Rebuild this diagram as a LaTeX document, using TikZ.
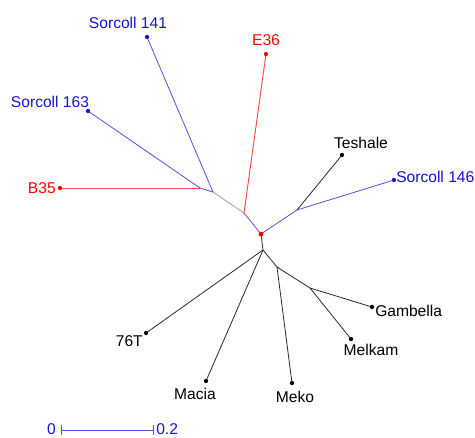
\documentclass[tikz,border=0pt]{standalone}
\usepackage{fontspec}
\setmainfont{Liberation Sans}
\begin{document}
\begin{tikzpicture}[x=0.75pt,y=-0.75pt,
  lbl/.style={inner sep=0pt,font=\fontsize{11.7pt}{13pt}\selectfont},
  bl/.style={lbl,text=tblue},
  rd/.style={lbl,text=red},
  bk/.style={lbl,text=black},
  dot/.style={fill=#1,circle,inner sep=0pt,minimum size=3.2pt},
  eblue/.style={draw=lblue,line width=0.6pt},
  ered/.style={draw=lred,line width=0.7pt},
  egrey/.style={draw=lgrey,line width=0.6pt},
  eblack/.style={draw=lblack,line width=0.6pt}]
\definecolor{tblue}{RGB}{20,20,210}
\definecolor{lblue}{RGB}{80,80,225}
\definecolor{lred}{RGB}{255,70,70}
\definecolor{lgrey}{RGB}{160,160,160}
\definecolor{lblack}{RGB}{40,40,40}
\useasboundingbox (0,0) rectangle (475,437);
% internal nodes
\coordinate (root) at (261,234);
\coordinate (nA) at (244,213);
\coordinate (nC) at (213,192);
\coordinate (nD) at (200,188);
\coordinate (nB) at (297,210);
\coordinate (nE) at (263,250);
\coordinate (nF) at (277,267);
\coordinate (nG) at (310,288);
% tips
\coordinate (s141) at (147,37);
\coordinate (s163) at (88,111);
\coordinate (b35) at (60,188);
\coordinate (e36) at (266,54);
\coordinate (tes) at (342,155);
\coordinate (s146) at (394,180);
\coordinate (t76) at (146,333);
\coordinate (mac) at (206,381);
\coordinate (mek) at (292,383);
\coordinate (gam) at (372,307);
\coordinate (mel) at (351,339);
% edges
\draw[eblue] (root) -- (nA);
\draw[egrey] (nA) -- (nC);
\draw[eblue] (nC) -- (nD);
\draw[eblue] (nC) -- (s141);
\draw[eblue] (nD) -- (s163);
\draw[ered] (nD) -- (b35);
\draw[ered] (nA) -- (e36);
\draw[eblue] (root) -- (nB);
\draw[eblack] (nB) -- (tes);
\draw[eblue] (nB) -- (s146);
\draw[eblack] (root) -- (nE);
\draw[eblack] (nE) -- (t76);
\draw[eblack] (nE) -- (mac);
\draw[eblack] (nE) -- (nF);
\draw[eblack] (nF) -- (mek);
\draw[eblack] (nF) -- (nG);
\draw[eblack] (nG) -- (gam);
\draw[eblack] (nG) -- (mel);
% dots
\node[dot=tblue] (d141) at (s141) {};
\node[dot=tblue] (d163) at (s163) {};
\node[dot=red] (db35) at (b35) {};
\node[dot=red] (de36) at (e36) {};
\node[dot=black] (dtes) at (tes) {};
\node[dot=tblue] (d146) at (s146) {};
\node[dot=black] (d76) at (t76) {};
\node[dot=black] (dmac) at (mac) {};
\node[dot=black] (dmek) at (mek) {};
\node[dot=black] (dgam) at (gam) {};
\node[dot=black] (dmel) at (mel) {};
\node[dot=red,minimum size=3.6pt] (droot) at (root) {};
% labels
\node[bl] (L141) at (128,23) {Sorcoll 141};
\node[bl] (L163) at (50,102) {Sorcoll 163};
\node[rd,anchor=east] (Lb35) at (56,188) {B35};
\node[rd] (Le36) at (266,40) {E36};
\node[bk] (Ltes) at (361,143) {Teshale};
\node[bl,anchor=west] (L146) at (396,177) {Sorcoll 146};
\node[bk,anchor=west] (Lgam) at (375,311) {Gambella};
\node[bk] (Lmel) at (371,350) {Melkam};
\node[bk] (Lmek) at (295,397) {Meko};
\node[bk] (Lmac) at (195,394) {Macia};
\node[bk,anchor=east] (L76) at (143,341) {76T};
% scale bar
\coordinate (sb0) at (61,430);
\coordinate (sb1) at (153,430);
\draw[eblue] (sb0) -- (sb1);
\draw[eblue] ([yshift=-3.5]sb0) -- ([yshift=3.5]sb0);
\draw[eblue] ([yshift=-3.5]sb1) -- ([yshift=3.5]sb1);
\node[bl,anchor=east] (S0) at (56,429.5) {0};
\node[bl,anchor=west] (S2) at (156,429.5) {0.2};
\end{tikzpicture}
\end{document}
